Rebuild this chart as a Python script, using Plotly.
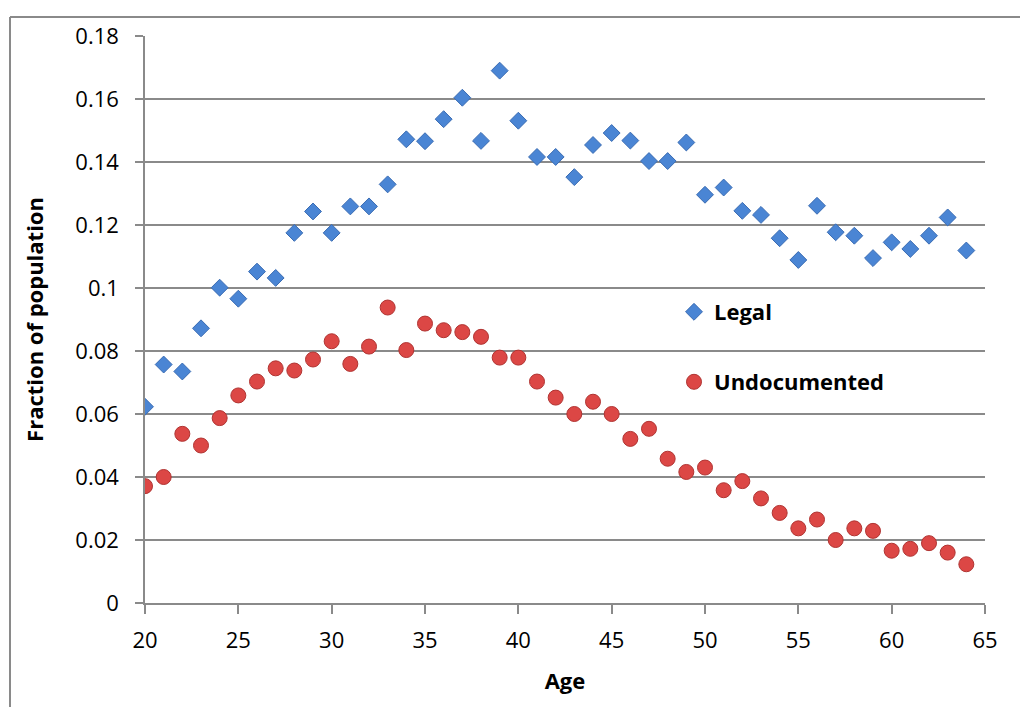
import plotly.graph_objects as go

ages = list(range(20, 65))

legal = [0.0623, 0.0757, 0.0735, 0.0872, 0.1001, 0.0966, 0.1052, 0.1032, 0.1175, 0.1243,
         0.1175, 0.1259, 0.1259, 0.1329, 0.1472, 0.1466, 0.1536, 0.1604, 0.1467, 0.1690,
         0.1531, 0.1416, 0.1416, 0.1352, 0.1454, 0.1492, 0.1468, 0.1403, 0.1403, 0.1462,
         0.1296, 0.1319, 0.1245, 0.1232, 0.1158, 0.1089, 0.1261, 0.1177, 0.1166, 0.1095,
         0.1145, 0.1124, 0.1166, 0.1224, 0.1119]

undocumented = [0.0371, 0.0400, 0.0537, 0.0500, 0.0587, 0.0659, 0.0703, 0.0745, 0.0738, 0.0773,
                0.0831, 0.0759, 0.0814, 0.0938, 0.0803, 0.0887, 0.0866, 0.0860, 0.0845, 0.0779,
                0.0779, 0.0703, 0.0652, 0.0600, 0.0639, 0.0600, 0.0521, 0.0553, 0.0458, 0.0416,
                0.0430, 0.0358, 0.0387, 0.0332, 0.0286, 0.0237, 0.0265, 0.0200, 0.0237, 0.0229,
                0.0166, 0.0172, 0.0190, 0.0160, 0.0123]

y_tickvals = [0, 0.02, 0.04, 0.06, 0.08, 0.10, 0.12, 0.14, 0.16, 0.18]
y_ticktext = ["0", "0.02", "0.04", "0.06", "0.08", "0.1", "0.12", "0.14", "0.16", "0.18"]
x_tickvals = [20, 25, 30, 35, 40, 45, 50, 55, 60, 65]

FONT = "Open Sans"
GRID = "#8a8a8a"

fig = go.Figure()
fig.add_trace(go.Scatter(
    x=ages, y=legal, mode="markers", name="Legal", legend="legend",
    marker=dict(symbol="diamond", size=13, color="#4a85d4",
                line=dict(color="#3a6cb3", width=1)),
))
fig.add_trace(go.Scatter(
    x=ages, y=undocumented, mode="markers", name="Undocumented", legend="legend2",
    marker=dict(symbol="circle", size=15, color="#dc4745",
                line=dict(color="#b03432", width=1)),
))

# page offset (body margin) of 8px
OFF = 8
W, H = 1020, 700
L, T = 145 - OFF, 36 - OFF
R = W - (985 - OFF)
B = H - (603 - OFF)
pw, ph = W - L - R, H - T - B

def px_x(sx):
    return (sx - OFF - L) / pw

def px_y(sy):
    return (H - B - (sy - OFF)) / ph

border = dict(color="#8a8a8a", width=2)

fig.update_layout(
    width=W, height=H,
    margin=dict(l=L, r=R, t=T, b=B, pad=0),
    paper_bgcolor="white", plot_bgcolor="white",
    font=dict(family=FONT, color="black"),
    showlegend=True,
    legend=dict(x=px_x(674), y=px_y(312), xanchor="left", yanchor="middle",
                font=dict(family=FONT, size=22, color="black", weight="bold"),
                bgcolor="rgba(0,0,0,0)", borderwidth=0),
    legend2=dict(x=px_x(674), y=px_y(382), xanchor="left", yanchor="middle",
                 font=dict(family=FONT, size=22, color="black", weight="bold"),
                 bgcolor="rgba(0,0,0,0)", borderwidth=0),
    xaxis=dict(
        range=[20, 65], tickvals=x_tickvals, ticks="outside", ticklen=9,
        tickcolor=GRID, tickwidth=1.5, showgrid=False, zeroline=False,
        showline=True, linecolor=GRID, linewidth=1.5,
        tickfont=dict(family=FONT, size=22, color="black"),
        ticklabelstandoff=8,
        title=dict(text="Age", font=dict(family=FONT, size=22, color="black", weight="bold"),
                   standoff=20),
    ),
    yaxis=dict(
        range=[0, 0.18], tickvals=y_tickvals, ticktext=y_ticktext, ticks="outside",
        ticklen=8, tickcolor=GRID, tickwidth=1.5,
        showgrid=True, gridcolor=GRID, gridwidth=1.5, zeroline=False,
        showline=True, linecolor=GRID, linewidth=1.5,
        tickfont=dict(family=FONT, size=22, color="black"),
        ticklabelstandoff=12,
        title=dict(text="Fraction of population",
                   font=dict(family=FONT, size=22, color="black", weight="bold"),
                   standoff=26),
    ),
    shapes=[
        dict(type="line", xref="paper", yref="paper",
             x0=px_x(10), x1=px_x(1027), y0=px_y(17), y1=px_y(17), line=border),
        dict(type="line", xref="paper", yref="paper",
             x0=px_x(10), x1=px_x(10), y0=px_y(17), y1=px_y(707), line=border),
    ],
)

fig.write_html("out.html")
